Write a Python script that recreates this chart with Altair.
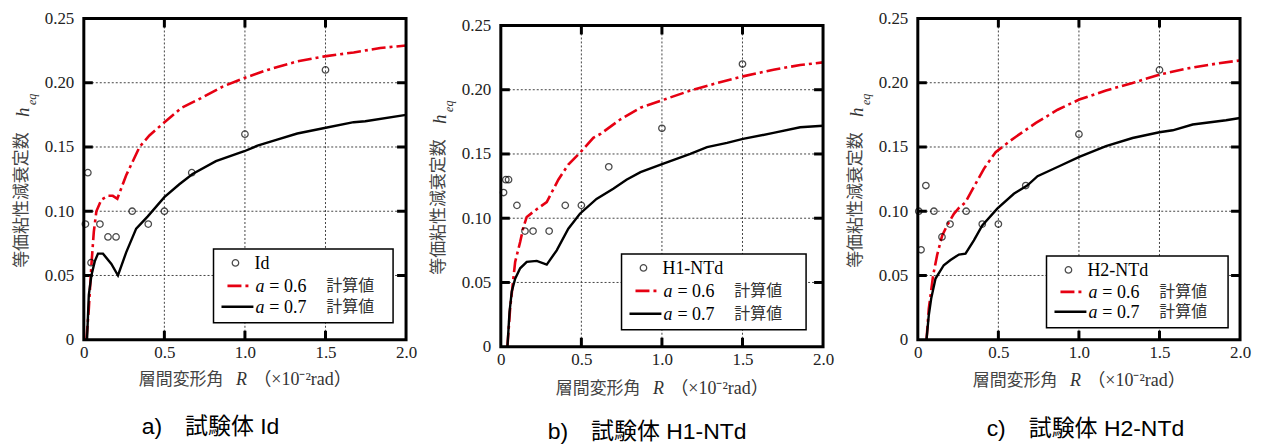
import altair as alt
import pandas as pd

# ---------------- data ----------------
# Panel a) 試験体 Id
R_pts_a = [0.01, 0.025, 0.045, 0.10, 0.15, 0.20, 0.30, 0.40, 0.50, 0.67, 1.00, 1.50]
h_pts_a = [0.09, 0.13, 0.06, 0.09, 0.08, 0.08, 0.10, 0.09, 0.10, 0.13, 0.16, 0.21]
R6_a = [0.016, 0.031, 0.047, 0.062, 0.078, 0.109, 0.15, 0.18, 0.208, 0.263, 0.346, 0.407, 0.48,
        0.605, 0.728, 0.862, 0.996, 1.14, 1.325, 1.494, 1.675, 1.84, 2.0]
h6_a = [0.0, 0.024, 0.058, 0.084, 0.100, 0.109, 0.112, 0.112, 0.1097, 0.128, 0.150, 0.159, 0.167,
        0.1804, 0.188, 0.197, 0.2037, 0.210, 0.2166, 0.2205, 0.2236, 0.227, 0.229]
R7_a = [0.02, 0.031, 0.047, 0.068, 0.088, 0.119, 0.171, 0.212, 0.263, 0.325, 0.397, 0.50, 0.593,
        0.675, 0.82, 0.996, 1.078, 1.20, 1.325, 1.494, 1.675, 1.747, 2.0]
h7_a = [0.0, 0.035, 0.050, 0.061, 0.067, 0.067, 0.059, 0.050, 0.068, 0.0865, 0.096, 0.111, 0.121,
        0.129, 0.139, 0.1467, 0.151, 0.1558, 0.1605, 0.1648, 0.1693, 0.170, 0.175]

# Panel b) 試験体 H1-NTd
R_pts_b = [0.017, 0.031, 0.048, 0.10, 0.15, 0.20, 0.30, 0.40, 0.50, 0.67, 1.00, 1.50]
h_pts_b = [0.12, 0.13, 0.13, 0.11, 0.09, 0.09, 0.09, 0.11, 0.11, 0.14, 0.17, 0.22]
R6_b = [0.041, 0.058, 0.089, 0.12, 0.14, 0.161, 0.223, 0.285, 0.357, 0.419, 0.491, 0.574, 0.619,
        0.743, 0.867, 1.005, 1.176, 1.342, 1.503, 1.692, 1.858, 2.0]
h6_b = [0.0, 0.03, 0.066, 0.0815, 0.093, 0.101, 0.107, 0.1126, 0.130, 0.1418, 0.1509, 0.1626, 0.1656,
        0.177, 0.186, 0.192, 0.1993, 0.2052, 0.2104, 0.2156, 0.2192, 0.2213]
R7_b = [0.041, 0.054, 0.068, 0.089, 0.12, 0.161, 0.223, 0.285, 0.347, 0.419, 0.491, 0.594, 0.698,
        0.78, 0.867, 1.005, 1.176, 1.28, 1.404, 1.503, 1.692, 1.858, 2.0]
h7_b = [0.0, 0.027, 0.043, 0.053, 0.061, 0.066, 0.0668, 0.0639, 0.075, 0.0918, 0.1035, 0.115, 0.123,
        0.130, 0.1359, 0.1423, 0.1501, 0.1553, 0.1586, 0.1617, 0.1664, 0.1708, 0.172]

# Panel c) 試験体 H2-NTd
R_pts_c = [0.006, 0.02, 0.05, 0.10, 0.15, 0.20, 0.30, 0.40, 0.50, 0.67, 1.00, 1.50]
h_pts_c = [0.10, 0.07, 0.12, 0.10, 0.08, 0.09, 0.10, 0.09, 0.09, 0.12, 0.16, 0.21]
R6_c = [0.054, 0.068, 0.095, 0.12, 0.151, 0.182, 0.224, 0.255, 0.296, 0.348, 0.41, 0.483, 0.576,
        0.609, 0.733, 0.868, 1.002, 1.168, 1.333, 1.499, 1.685, 1.851, 2.0]
h6_c = [0.0, 0.024, 0.050, 0.066, 0.081, 0.089, 0.098, 0.1025, 0.107, 0.119, 0.133, 0.146, 0.155,
        0.158, 0.1687, 0.179, 0.1869, 0.194, 0.1998, 0.2063, 0.2114, 0.2148, 0.2174]
R7_c = [0.054, 0.068, 0.083, 0.11, 0.161, 0.203, 0.255, 0.296, 0.348, 0.40, 0.493, 0.596, 0.679,
        0.743, 0.877, 1.002, 1.168, 1.333, 1.499, 1.582, 1.706, 1.913, 2.0]
h7_c = [0.0, 0.019, 0.032, 0.0476, 0.058, 0.062, 0.0663, 0.067, 0.0774, 0.089, 0.102, 0.1136, 0.120,
        0.1273, 0.135, 0.1423, 0.1506, 0.157, 0.1615, 0.163, 0.1675, 0.1708, 0.1726]

specimen_names = ["Id", "H1-NTd", "H2-NTd"]
captions = ["a)\u3000試験体 Id", "b)\u3000試験体 H1-NTd", "c)\u3000試験体 H2-NTd"]
legend_a_labels = ["= 0.6", "= 0.7"]
calc_label = "計算値"

x_tick_labels = [0, 0.5, 1.0, 1.5, 2.0]
y_tick_labels = [0, 0.05, 0.10, 0.15, 0.20, 0.25]
x_inner_ticks = [0.5, 1.0, 1.5]
y_inner_ticks = [0.05, 0.10, 0.15, 0.20]

# ---------------- styling ----------------
W, H = 323, 322
SERIF = "Liberation Serif, Noto Sans CJK JP"
CJK = "Noto Sans CJK JP"
SANS = "Liberation Sans, Noto Sans CJK JP"
RED = "#e60012"
ONE = pd.DataFrame({"k": [0]})

xsc = alt.Scale(domain=[0, 2], nice=False, zero=False)
xax = alt.Axis(values=x_tick_labels, title=None, grid=False, domain=False, ticks=False,
               labelPadding=5, labelFontSize=17, labelFont="Liberation Serif",
               labelColor="#222", labelFlush=False,
               labelExpr="datum.value == 0 ? '0' : format(datum.value, '.1f')")
yax = alt.Axis(values=y_tick_labels, title=None, grid=False, domain=False, ticks=False,
               labelPadding=10, labelFontSize=17, labelFont="Liberation Serif",
               labelColor="#222", labelFlush=False,
               labelExpr="datum.value == 0 ? '0' : format(datum.value, '.2f')")


def X():
    return alt.X("x:Q", scale=xsc, axis=xax)


def txt(s, x, y, size=17, font=SERIF, style="normal", align="left", angle=0,
        color="black", baseline="middle"):
    kw = dict(text=s, fontSize=size, font=font, fontStyle=style, align=align,
              baseline=baseline, color=color)
    if angle:
        kw["angle"] = angle
    return alt.Chart(ONE).mark_text(**kw).encode(x=alt.value(x), y=alt.value(y))


def panel(Rp, hp, R6, h6, R7, h7, name, caption, leg, cap_x, cap_dy, xt_dy, oy):
    ysc = alt.Scale(domain=[0, 0.25], nice=False, zero=False, range=[H + oy, oy])

    def Y():
        return alt.Y("y:Q", scale=ysc, axis=yax)

    pts = pd.DataFrame({"x": Rp, "y": hp})
    l6 = pd.DataFrame({"x": R6, "y": h6})
    l7 = pd.DataFrame({"x": R7, "y": h7})
    xt = pd.DataFrame({"x": x_inner_ticks})
    yt = pd.DataFrame({"y": y_inner_ticks})

    layers = []
    # dotted grid
    layers.append(alt.Chart(yt).mark_rule(color="#444", strokeWidth=1, strokeDash=[2, 2]).encode(
        y=Y(), x=alt.value(0), x2=alt.value(W)))
    layers.append(alt.Chart(xt).mark_rule(color="#444", strokeWidth=1, strokeDash=[2, 2]).encode(
        x=X(), y=alt.value(oy), y2=alt.value(oy + H)))
    # inward ticks
    layers.append(alt.Chart(yt).mark_rule(color="black", strokeWidth=3).encode(
        y=Y(), x=alt.value(0), x2=alt.value(9)))
    layers.append(alt.Chart(yt).mark_rule(color="black", strokeWidth=3).encode(
        y=Y(), x=alt.value(W - 9), x2=alt.value(W)))
    layers.append(alt.Chart(xt).mark_rule(color="black", strokeWidth=3).encode(
        x=X(), y=alt.value(oy + H - 9), y2=alt.value(oy + H)))
    layers.append(alt.Chart(xt).mark_rule(color="black", strokeWidth=3).encode(
        x=X(), y=alt.value(oy), y2=alt.value(oy + 9)))
    # curves
    layers.append(alt.Chart(l6).mark_line(color=RED, strokeWidth=2.6, strokeDash=[14, 4, 3, 4]).encode(
        x=X(), y=Y()))
    layers.append(alt.Chart(l7).mark_line(color="black", strokeWidth=2.4).encode(x=X(), y=Y()))
    # test points
    layers.append(alt.Chart(pts).mark_point(shape="circle", filled=False, size=42, color="black",
                                            strokeWidth=1.3).encode(x=X(), y=Y()))
    # legend
    bx, by, bw, bh, rows = leg
    by = by + oy
    layers.append(alt.Chart(ONE).mark_rect(fill="white", stroke="black", strokeWidth=1.5).encode(
        x=alt.value(bx), x2=alt.value(bx + bw), y=alt.value(by), y2=alt.value(by + bh)))
    layers.append(alt.Chart(ONE).mark_point(shape="circle", filled=False, size=42, color="black",
                                            strokeWidth=1.3).encode(
        x=alt.value(bx + 22), y=alt.value(by + rows[0])))
    layers.append(txt(name, bx + 41, by + rows[0] + 1, size=18))
    layers.append(alt.Chart(ONE).mark_rule(color=RED, strokeWidth=2.6, strokeDash=[14, 4, 3, 4]).encode(
        x=alt.value(bx + 14), x2=alt.value(bx + 38), y=alt.value(by + rows[1])))
    layers.append(alt.Chart(ONE).mark_rule(color="black", strokeWidth=2.4).encode(
        x=alt.value(bx + 8), x2=alt.value(bx + 40), y=alt.value(by + rows[2])))
    for r, lab in zip(rows[1:], legend_a_labels):
        layers.append(txt("a", bx + 42, by + r + 1, size=18, style="italic"))
        layers.append(txt(lab, bx + 56, by + r + 1, size=18))
        layers.append(txt(calc_label, bx + 113, by + r, size=16, font=CJK, color="#333"))
    # axis titles
    layers.append(txt("等価粘性減衰定数", -62, oy + 182, size=17, font=CJK, align="center",
                      angle=270, color="#444"))
    layers.append(txt("h", -61, oy + 94, size=19, font="Liberation Serif", style="italic",
                      align="center", angle=270, color="#333"))
    layers.append(txt("eq", -52, oy + 81, size=12, font="Liberation Serif", style="italic",
                      align="center", angle=270, color="#333"))
    layers.append(txt("層間変形角", 140, oy + H + xt_dy, size=17, font=CJK, align="right",
                      color="#444"))
    layers.append(txt("R", 158, oy + H + xt_dy, size=18, font="Liberation Serif", style="italic",
                      align="center", color="#333"))
    layers.append(txt("（×10⁻²rad）", 170, oy + H + xt_dy, size=18, align="left", color="#333"))
    # caption
    layers.append(txt(caption, cap_x, oy + H + cap_dy, size=23, font=SANS, color="black"))
    # frame on top
    layers.append(alt.Chart(ONE).mark_rect(fill="transparent", stroke="black", strokeWidth=3).encode(
        x=alt.value(0), x2=alt.value(W), y=alt.value(oy), y2=alt.value(oy + H)))

    return alt.layer(*layers).properties(width=W, height=H + oy)


pa = panel(R_pts_a, h_pts_a, R6_a, h6_a, R7_a, h7_a, specimen_names[0], captions[0],
           (130, 231, 180, 74, (14, 37, 58)), 58, 87, 40, 0)
pb = panel(R_pts_b, h_pts_b, R6_b, h6_b, R7_b, h7_b, specimen_names[1], captions[1],
           (121, 229, 185, 76, (14, 37, 60)), 47, 86, 42, 7)
pc = panel(R_pts_c, h_pts_c, R6_c, h6_c, R7_c, h7_c, specimen_names[2], captions[2],
           (129, 238, 182, 72, (14, 36, 56)), 69, 90, 41, 0)

chart = alt.hconcat(pa, pb, pc, spacing=95, bounds="flush").properties(
    padding={"left": 4, "top": 0, "right": 5, "bottom": 0},
    background="white",
).configure_view(stroke="transparent")

chart.save("out.html", embed_options={"renderer": "svg", "actions": False})
